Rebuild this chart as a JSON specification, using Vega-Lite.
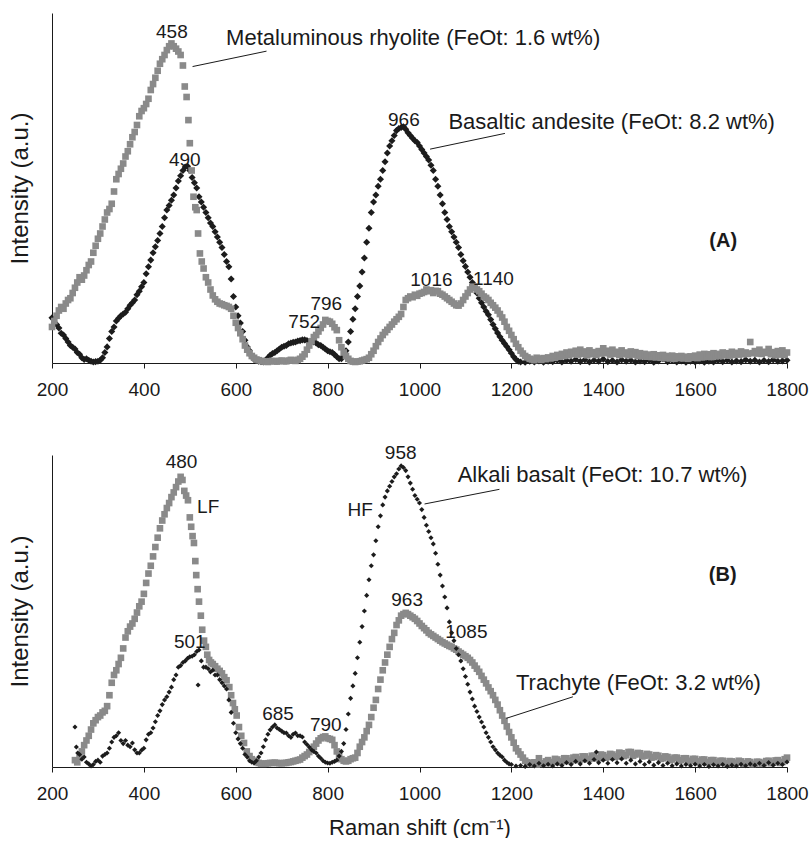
{
"$schema":"https://vega.github.io/schema/vega-lite/v6.json",
"padding":{"left":8,"top":13,"right":0,"bottom":0},
"bounds":"flush",
"spacing":92,
"datasets":{
"rhyolite":[{"x":200,"y":10.3},{"x":205,"y":12},{"x":210,"y":13.5},{"x":215,"y":15},{"x":220,"y":16},{"x":225,"y":15.5},{"x":230,"y":17},{"x":235,"y":18},{"x":240,"y":18.5},{"x":245,"y":20},{"x":250,"y":21.5},{"x":255,"y":23},{"x":260,"y":24.5},{"x":265,"y":23.8},{"x":270,"y":25},{"x":275,"y":26.5},{"x":280,"y":28},{"x":285,"y":29},{"x":290,"y":31.5},{"x":295,"y":33.5},{"x":300,"y":35.5},{"x":305,"y":37},{"x":310,"y":39},{"x":315,"y":41},{"x":320,"y":43},{"x":325,"y":44},{"x":330,"y":45.5},{"x":335,"y":49},{"x":340,"y":52.5},{"x":345,"y":54},{"x":350,"y":55.5},{"x":355,"y":57},{"x":360,"y":59},{"x":365,"y":60.5},{"x":370,"y":62.5},{"x":375,"y":64.5},{"x":380,"y":66},{"x":385,"y":68},{"x":390,"y":70.5},{"x":395,"y":72},{"x":400,"y":72.8},{"x":405,"y":74},{"x":410,"y":75.5},{"x":415,"y":78},{"x":420,"y":79.7},{"x":425,"y":81.5},{"x":430,"y":83.5},{"x":435,"y":85.5},{"x":440,"y":86.8},{"x":445,"y":88},{"x":450,"y":89.4},{"x":455,"y":90.5},{"x":460,"y":91.3},{"x":465,"y":90.5},{"x":470,"y":89.8},{"x":475,"y":89},{"x":480,"y":88},{"x":485,"y":85},{"x":489,"y":79},{"x":493,"y":76},{"x":497,"y":69.4},{"x":500,"y":62.8},{"x":504,"y":55},{"x":508,"y":47.5},{"x":512,"y":44.5},{"x":515,"y":43.7},{"x":518,"y":37},{"x":522,"y":31.3},{"x":526,"y":29},{"x":530,"y":27},{"x":535,"y":24.5},{"x":540,"y":23},{"x":545,"y":21},{"x":550,"y":19.3},{"x":555,"y":18.2},{"x":560,"y":17.5},{"x":565,"y":17},{"x":570,"y":16.8},{"x":575,"y":16.5},{"x":580,"y":16.3},{"x":585,"y":16},{"x":590,"y":15.5},{"x":595,"y":13.5},{"x":600,"y":11.5},{"x":605,"y":10},{"x":610,"y":8.5},{"x":615,"y":6.8},{"x":620,"y":5},{"x":625,"y":3.8},{"x":630,"y":2.8},{"x":635,"y":2},{"x":640,"y":1.5},{"x":645,"y":1},{"x":650,"y":0.8},{"x":655,"y":0.6},{"x":660,"y":0.5},{"x":665,"y":0.4},{"x":670,"y":0.3},{"x":675,"y":0.5},{"x":680,"y":0.6},{"x":685,"y":0.5},{"x":690,"y":0.4},{"x":695,"y":0.6},{"x":700,"y":0.7},{"x":705,"y":0.5},{"x":710,"y":0.5},{"x":715,"y":0.7},{"x":720,"y":0.9},{"x":725,"y":0.7},{"x":730,"y":0.6},{"x":735,"y":0.9},{"x":740,"y":1.2},{"x":745,"y":1.8},{"x":750,"y":2.5},{"x":755,"y":3.8},{"x":760,"y":5},{"x":765,"y":6.2},{"x":770,"y":7.4},{"x":775,"y":8},{"x":780,"y":9},{"x":785,"y":10},{"x":790,"y":11},{"x":795,"y":12.3},{"x":800,"y":12},{"x":805,"y":11.8},{"x":810,"y":11.2},{"x":815,"y":10.2},{"x":820,"y":9.4},{"x":825,"y":6.5},{"x":830,"y":4.5},{"x":835,"y":3},{"x":840,"y":2},{"x":845,"y":1.2},{"x":850,"y":0.6},{"x":855,"y":0.4},{"x":860,"y":0.3},{"x":865,"y":0.4},{"x":870,"y":0.5},{"x":875,"y":0.7},{"x":880,"y":0.9},{"x":885,"y":1.1},{"x":890,"y":1.5},{"x":895,"y":2.5},{"x":900,"y":3.5},{"x":905,"y":4.8},{"x":910,"y":6},{"x":915,"y":7},{"x":920,"y":8},{"x":925,"y":8.8},{"x":930,"y":9.5},{"x":935,"y":10.3},{"x":940,"y":11},{"x":945,"y":11.8},{"x":950,"y":12.5},{"x":955,"y":13.2},{"x":960,"y":14},{"x":965,"y":16},{"x":970,"y":18},{"x":975,"y":18.5},{"x":980,"y":19},{"x":985,"y":18.8},{"x":990,"y":19.5},{"x":995,"y":19.2},{"x":1000,"y":19.8},{"x":1005,"y":20},{"x":1010,"y":20.3},{"x":1015,"y":21},{"x":1020,"y":20.5},{"x":1025,"y":20.8},{"x":1030,"y":20},{"x":1035,"y":20.6},{"x":1040,"y":20.5},{"x":1045,"y":19.8},{"x":1050,"y":19.5},{"x":1055,"y":19},{"x":1060,"y":18.5},{"x":1065,"y":18},{"x":1070,"y":17.5},{"x":1075,"y":17},{"x":1080,"y":16.5},{"x":1085,"y":16.4},{"x":1090,"y":17},{"x":1095,"y":18},{"x":1100,"y":19},{"x":1105,"y":20},{"x":1110,"y":21},{"x":1115,"y":21.8},{"x":1120,"y":21.5},{"x":1125,"y":21},{"x":1130,"y":20.5},{"x":1135,"y":19.8},{"x":1140,"y":19},{"x":1145,"y":18.6},{"x":1150,"y":18},{"x":1155,"y":17.2},{"x":1160,"y":16.5},{"x":1165,"y":15.8},{"x":1170,"y":15},{"x":1175,"y":14},{"x":1180,"y":13},{"x":1185,"y":11.8},{"x":1190,"y":10.3},{"x":1195,"y":9.2},{"x":1200,"y":8},{"x":1205,"y":6.8},{"x":1210,"y":5.5},{"x":1215,"y":4.5},{"x":1220,"y":3.5},{"x":1225,"y":2.7},{"x":1230,"y":2},{"x":1235,"y":1.6},{"x":1240,"y":1.2},{"x":1245,"y":1},{"x":1250,"y":0.8},{"x":1255,"y":1.5},{"x":1260,"y":1.2},{"x":1265,"y":0.9},{"x":1270,"y":1.4},{"x":1275,"y":1.1},{"x":1280,"y":1.6},{"x":1285,"y":1.3},{"x":1290,"y":2},{"x":1295,"y":1.5},{"x":1300,"y":2.3},{"x":1305,"y":1.8},{"x":1310,"y":2.6},{"x":1315,"y":2},{"x":1320,"y":3},{"x":1325,"y":2.2},{"x":1330,"y":3.2},{"x":1335,"y":2.5},{"x":1340,"y":3.5},{"x":1345,"y":2.4},{"x":1350,"y":3.8},{"x":1355,"y":2.6},{"x":1360,"y":3.3},{"x":1365,"y":2.2},{"x":1370,"y":3.6},{"x":1375,"y":2.5},{"x":1380,"y":3.1},{"x":1385,"y":2.3},{"x":1390,"y":3.4},{"x":1395,"y":2.7},{"x":1400,"y":4.2},{"x":1405,"y":2.8},{"x":1410,"y":3.5},{"x":1415,"y":2.4},{"x":1420,"y":3.8},{"x":1425,"y":2.6},{"x":1430,"y":3.2},{"x":1435,"y":2.3},{"x":1440,"y":3.6},{"x":1445,"y":2.5},{"x":1450,"y":3},{"x":1455,"y":2.2},{"x":1460,"y":3.3},{"x":1465,"y":2.4},{"x":1470,"y":3.1},{"x":1475,"y":2},{"x":1480,"y":2.8},{"x":1485,"y":1.9},{"x":1490,"y":2.6},{"x":1495,"y":1.8},{"x":1500,"y":2.4},{"x":1505,"y":1.7},{"x":1510,"y":2.5},{"x":1515,"y":1.6},{"x":1520,"y":2.2},{"x":1525,"y":1.5},{"x":1530,"y":2.3},{"x":1535,"y":1.4},{"x":1540,"y":2},{"x":1545,"y":1.3},{"x":1550,"y":2.1},{"x":1555,"y":1.2},{"x":1560,"y":1.9},{"x":1565,"y":1.4},{"x":1570,"y":2},{"x":1575,"y":1.3},{"x":1580,"y":1.8},{"x":1585,"y":1.2},{"x":1590,"y":1.9},{"x":1595,"y":1.5},{"x":1600,"y":2.1},{"x":1605,"y":1.4},{"x":1610,"y":2.4},{"x":1615,"y":1.6},{"x":1620,"y":2.6},{"x":1625,"y":1.8},{"x":1630,"y":2.5},{"x":1635,"y":1.7},{"x":1640,"y":2.8},{"x":1645,"y":1.9},{"x":1650,"y":2.6},{"x":1655,"y":2},{"x":1660,"y":3},{"x":1665,"y":2.2},{"x":1670,"y":2.8},{"x":1675,"y":2.1},{"x":1680,"y":3.2},{"x":1685,"y":2.3},{"x":1690,"y":2.9},{"x":1695,"y":2.4},{"x":1700,"y":3.3},{"x":1705,"y":2.5},{"x":1710,"y":3},{"x":1715,"y":2.6},{"x":1720,"y":6},{"x":1725,"y":2.8},{"x":1730,"y":3.4},{"x":1735,"y":2.7},{"x":1740,"y":3.8},{"x":1745,"y":2.6},{"x":1750,"y":3.2},{"x":1755,"y":2.9},{"x":1760,"y":4},{"x":1765,"y":2.5},{"x":1770,"y":3.1},{"x":1775,"y":2.2},{"x":1780,"y":3.4},{"x":1785,"y":2.4},{"x":1790,"y":3.6},{"x":1795,"y":2.3},{"x":1800,"y":3}],
"basandesite":[{"x":200,"y":12.9},{"x":205,"y":11.5},{"x":210,"y":11},{"x":215,"y":10},{"x":220,"y":8.5},{"x":225,"y":8},{"x":230,"y":7},{"x":235,"y":6},{"x":240,"y":5},{"x":245,"y":4.5},{"x":250,"y":4},{"x":255,"y":3},{"x":260,"y":2.5},{"x":265,"y":1.5},{"x":270,"y":1},{"x":275,"y":1.2},{"x":280,"y":0.8},{"x":285,"y":0.5},{"x":290,"y":0.3},{"x":295,"y":0.4},{"x":300,"y":0.5},{"x":305,"y":0.8},{"x":310,"y":1.5},{"x":315,"y":3},{"x":320,"y":4.6},{"x":325,"y":7},{"x":330,"y":9},{"x":335,"y":10.3},{"x":340,"y":12},{"x":345,"y":12.8},{"x":350,"y":13.5},{"x":355,"y":14},{"x":360,"y":14.5},{"x":365,"y":15.5},{"x":370,"y":16.5},{"x":375,"y":17.2},{"x":380,"y":18},{"x":385,"y":19.5},{"x":390,"y":20.5},{"x":395,"y":21.8},{"x":400,"y":23},{"x":405,"y":25.5},{"x":410,"y":27.5},{"x":415,"y":29.4},{"x":420,"y":31.5},{"x":425,"y":33.2},{"x":430,"y":35},{"x":435,"y":37},{"x":440,"y":39},{"x":445,"y":41.5},{"x":450,"y":43.7},{"x":455,"y":45},{"x":460,"y":46.5},{"x":465,"y":48},{"x":470,"y":50},{"x":475,"y":52},{"x":480,"y":53.5},{"x":485,"y":55},{"x":490,"y":56},{"x":495,"y":56.2},{"x":500,"y":55},{"x":505,"y":53},{"x":510,"y":51.5},{"x":515,"y":50},{"x":520,"y":47.5},{"x":525,"y":46},{"x":530,"y":44.5},{"x":535,"y":43},{"x":540,"y":41.5},{"x":545,"y":40},{"x":550,"y":39},{"x":555,"y":37.5},{"x":560,"y":36},{"x":565,"y":34.5},{"x":570,"y":33},{"x":575,"y":31},{"x":580,"y":29},{"x":585,"y":27.5},{"x":590,"y":24},{"x":595,"y":19},{"x":600,"y":16},{"x":605,"y":13.5},{"x":610,"y":11.4},{"x":615,"y":9},{"x":620,"y":6.5},{"x":625,"y":4.6},{"x":630,"y":3.5},{"x":635,"y":2},{"x":640,"y":1},{"x":645,"y":0.7},{"x":650,"y":0.5},{"x":655,"y":0.4},{"x":660,"y":0.3},{"x":665,"y":0.8},{"x":670,"y":1.5},{"x":675,"y":2.2},{"x":680,"y":2.7},{"x":685,"y":3},{"x":690,"y":3.5},{"x":695,"y":4},{"x":700,"y":4.5},{"x":705,"y":4.8},{"x":710,"y":5},{"x":715,"y":5.5},{"x":720,"y":5.7},{"x":725,"y":5.9},{"x":730,"y":6},{"x":735,"y":6.3},{"x":740,"y":6.4},{"x":745,"y":6.6},{"x":750,"y":6.6},{"x":755,"y":6.4},{"x":760,"y":6.2},{"x":765,"y":6.1},{"x":770,"y":6},{"x":775,"y":5.7},{"x":780,"y":5.2},{"x":785,"y":5},{"x":790,"y":4.5},{"x":795,"y":4},{"x":800,"y":3.5},{"x":805,"y":3.2},{"x":810,"y":3},{"x":815,"y":2.4},{"x":820,"y":1.8},{"x":825,"y":1.2},{"x":830,"y":1.2},{"x":835,"y":2},{"x":840,"y":3.5},{"x":845,"y":6},{"x":850,"y":9},{"x":855,"y":12.5},{"x":860,"y":15.5},{"x":865,"y":19},{"x":870,"y":22},{"x":875,"y":26},{"x":880,"y":30},{"x":885,"y":34.5},{"x":890,"y":38.5},{"x":895,"y":43},{"x":900,"y":46},{"x":905,"y":48},{"x":910,"y":50.5},{"x":915,"y":52.5},{"x":920,"y":55},{"x":925,"y":57.5},{"x":930,"y":60},{"x":935,"y":62},{"x":940,"y":63.5},{"x":945,"y":65},{"x":950,"y":66.4},{"x":955,"y":67},{"x":960,"y":67.3},{"x":965,"y":67.5},{"x":970,"y":66.8},{"x":975,"y":65.8},{"x":980,"y":65},{"x":985,"y":64.2},{"x":990,"y":63.5},{"x":995,"y":63},{"x":1000,"y":62},{"x":1005,"y":61},{"x":1010,"y":60},{"x":1015,"y":59},{"x":1020,"y":58},{"x":1025,"y":56.5},{"x":1030,"y":55},{"x":1035,"y":52.5},{"x":1040,"y":50.5},{"x":1045,"y":48},{"x":1050,"y":45.5},{"x":1055,"y":43},{"x":1060,"y":41},{"x":1065,"y":39},{"x":1070,"y":37.5},{"x":1075,"y":36},{"x":1080,"y":34.5},{"x":1085,"y":33},{"x":1090,"y":31},{"x":1095,"y":29.2},{"x":1100,"y":27.6},{"x":1105,"y":26},{"x":1110,"y":24.5},{"x":1115,"y":23},{"x":1120,"y":21.5},{"x":1125,"y":20},{"x":1130,"y":18.5},{"x":1135,"y":17.2},{"x":1140,"y":16},{"x":1145,"y":14.8},{"x":1150,"y":13.8},{"x":1155,"y":12.4},{"x":1160,"y":11},{"x":1165,"y":9.8},{"x":1170,"y":8.6},{"x":1175,"y":7.5},{"x":1180,"y":6.5},{"x":1185,"y":5.6},{"x":1190,"y":4.7},{"x":1195,"y":3.8},{"x":1200,"y":2.8},{"x":1205,"y":1.8},{"x":1210,"y":1},{"x":1215,"y":0.5},{"x":1220,"y":0.3},{"x":1230,"y":0.2},{"x":1240,"y":0.5},{"x":1250,"y":0.3},{"x":1260,"y":0.6},{"x":1270,"y":0.2},{"x":1280,"y":0.5},{"x":1290,"y":0.4},{"x":1300,"y":0.8},{"x":1310,"y":0.3},{"x":1320,"y":0.7},{"x":1330,"y":0.5},{"x":1340,"y":1},{"x":1350,"y":0.4},{"x":1360,"y":0.9},{"x":1370,"y":0.3},{"x":1380,"y":0.8},{"x":1390,"y":0.5},{"x":1400,"y":1.1},{"x":1410,"y":0.4},{"x":1420,"y":0.7},{"x":1430,"y":0.3},{"x":1440,"y":0.9},{"x":1450,"y":0.5},{"x":1460,"y":0.8},{"x":1470,"y":0.3},{"x":1480,"y":0.6},{"x":1490,"y":0.4},{"x":1500,"y":0.7},{"x":1510,"y":0.2},{"x":1520,"y":0.6},{"x":1530,"y":1.2},{"x":1540,"y":0.4},{"x":1550,"y":0.7},{"x":1560,"y":0.3},{"x":1570,"y":0.6},{"x":1580,"y":0.2},{"x":1590,"y":0.5},{"x":1600,"y":0.3},{"x":1610,"y":0.6},{"x":1620,"y":0.2},{"x":1630,"y":0.5},{"x":1640,"y":0.3},{"x":1650,"y":0.7},{"x":1660,"y":0.4},{"x":1670,"y":0.8},{"x":1680,"y":0.3},{"x":1690,"y":0.6},{"x":1700,"y":0.4},{"x":1710,"y":0.9},{"x":1720,"y":0.5},{"x":1730,"y":0.8},{"x":1740,"y":0.3},{"x":1750,"y":0.7},{"x":1760,"y":0.4},{"x":1770,"y":0.9},{"x":1780,"y":0.5},{"x":1790,"y":0.6},{"x":1800,"y":0.8}],
"alkbasalt":[{"x":250,"y":12.8},{"x":253,"y":6.4},{"x":256,"y":4.5},{"x":260,"y":4},{"x":265,"y":2.5},{"x":270,"y":3.2},{"x":275,"y":1.5},{"x":280,"y":1},{"x":285,"y":0.3},{"x":290,"y":0.8},{"x":295,"y":1.8},{"x":300,"y":2.2},{"x":305,"y":1.5},{"x":310,"y":3.5},{"x":315,"y":4},{"x":320,"y":4.5},{"x":325,"y":6},{"x":330,"y":8},{"x":335,"y":9.5},{"x":340,"y":10},{"x":345,"y":11},{"x":350,"y":8.5},{"x":355,"y":7.5},{"x":360,"y":8.5},{"x":365,"y":7},{"x":370,"y":6.5},{"x":375,"y":7.7},{"x":380,"y":5.5},{"x":385,"y":4.5},{"x":390,"y":4.5},{"x":395,"y":5.4},{"x":400,"y":6},{"x":405,"y":8.7},{"x":410,"y":10.5},{"x":415,"y":11},{"x":420,"y":12.5},{"x":425,"y":14.5},{"x":430,"y":16.5},{"x":435,"y":18},{"x":440,"y":20},{"x":445,"y":21.5},{"x":450,"y":22.5},{"x":455,"y":24},{"x":460,"y":25.6},{"x":465,"y":28},{"x":470,"y":29.5},{"x":475,"y":32},{"x":480,"y":32.5},{"x":485,"y":33.5},{"x":490,"y":34},{"x":495,"y":34.8},{"x":500,"y":35.3},{"x":505,"y":35.5},{"x":510,"y":36},{"x":515,"y":37},{"x":518,"y":26.3},{"x":520,"y":37.5},{"x":525,"y":34},{"x":530,"y":32},{"x":535,"y":32},{"x":540,"y":31.5},{"x":545,"y":30.5},{"x":550,"y":31},{"x":555,"y":29.5},{"x":560,"y":29.5},{"x":565,"y":28},{"x":570,"y":27},{"x":575,"y":26},{"x":580,"y":25},{"x":585,"y":21.5},{"x":590,"y":17.5},{"x":595,"y":14},{"x":600,"y":11},{"x":605,"y":9},{"x":610,"y":7.5},{"x":615,"y":6},{"x":620,"y":4},{"x":625,"y":3.2},{"x":630,"y":2},{"x":635,"y":1.5},{"x":640,"y":1.3},{"x":645,"y":2},{"x":650,"y":3.2},{"x":655,"y":4.5},{"x":660,"y":6.5},{"x":665,"y":8.7},{"x":670,"y":10.5},{"x":675,"y":11.9},{"x":680,"y":12.8},{"x":685,"y":13.5},{"x":690,"y":12.5},{"x":695,"y":12},{"x":700,"y":11.5},{"x":705,"y":11},{"x":710,"y":10.9},{"x":715,"y":10},{"x":720,"y":9.5},{"x":725,"y":10.5},{"x":730,"y":10.9},{"x":735,"y":10},{"x":740,"y":10},{"x":745,"y":9.6},{"x":750,"y":8},{"x":755,"y":7.2},{"x":760,"y":6.4},{"x":765,"y":5.5},{"x":770,"y":5},{"x":775,"y":4.5},{"x":780,"y":3.5},{"x":785,"y":2.8},{"x":790,"y":2},{"x":795,"y":1.5},{"x":800,"y":1.3},{"x":805,"y":1.2},{"x":810,"y":1.5},{"x":815,"y":1.8},{"x":820,"y":2.2},{"x":825,"y":3.5},{"x":830,"y":5},{"x":835,"y":7.5},{"x":840,"y":12},{"x":845,"y":17},{"x":850,"y":22},{"x":855,"y":26},{"x":860,"y":30},{"x":865,"y":35},{"x":870,"y":40},{"x":875,"y":45},{"x":880,"y":50},{"x":885,"y":55},{"x":890,"y":60},{"x":895,"y":64.5},{"x":900,"y":68},{"x":905,"y":72.5},{"x":910,"y":77},{"x":915,"y":80.5},{"x":920,"y":84},{"x":925,"y":86.5},{"x":930,"y":88.5},{"x":935,"y":90},{"x":940,"y":91.5},{"x":945,"y":93},{"x":950,"y":94},{"x":955,"y":95.5},{"x":960,"y":96.5},{"x":965,"y":96},{"x":970,"y":95},{"x":975,"y":93},{"x":980,"y":91},{"x":985,"y":89},{"x":990,"y":87},{"x":995,"y":85.8},{"x":1000,"y":84.6},{"x":1005,"y":82.5},{"x":1010,"y":80},{"x":1015,"y":77.5},{"x":1020,"y":75.5},{"x":1025,"y":73.5},{"x":1030,"y":71.5},{"x":1035,"y":68.5},{"x":1040,"y":65},{"x":1045,"y":61.5},{"x":1050,"y":58},{"x":1055,"y":54.5},{"x":1060,"y":51},{"x":1065,"y":46.5},{"x":1070,"y":43},{"x":1075,"y":40.5},{"x":1080,"y":38},{"x":1085,"y":36},{"x":1090,"y":34},{"x":1095,"y":31.5},{"x":1100,"y":29},{"x":1105,"y":26.5},{"x":1110,"y":24},{"x":1115,"y":21.8},{"x":1120,"y":19.5},{"x":1125,"y":17.8},{"x":1130,"y":16},{"x":1135,"y":14.4},{"x":1140,"y":12.8},{"x":1145,"y":11},{"x":1150,"y":9.5},{"x":1155,"y":8},{"x":1160,"y":6.5},{"x":1165,"y":5.5},{"x":1170,"y":4.5},{"x":1175,"y":3.8},{"x":1180,"y":3.2},{"x":1185,"y":2.2},{"x":1190,"y":1.5},{"x":1195,"y":1},{"x":1200,"y":0.8},{"x":1210,"y":0.3},{"x":1220,"y":0.5},{"x":1230,"y":0.2},{"x":1240,"y":0.8},{"x":1250,"y":0.3},{"x":1260,"y":1.2},{"x":1270,"y":0.4},{"x":1280,"y":0.9},{"x":1290,"y":0.3},{"x":1300,"y":1},{"x":1310,"y":0.5},{"x":1320,"y":1.4},{"x":1330,"y":0.8},{"x":1340,"y":1.8},{"x":1350,"y":1},{"x":1360,"y":2},{"x":1370,"y":1.2},{"x":1380,"y":2.4},{"x":1385,"y":4.8},{"x":1390,"y":1.4},{"x":1400,"y":2.2},{"x":1410,"y":1.2},{"x":1420,"y":2.4},{"x":1430,"y":1.4},{"x":1440,"y":2.6},{"x":1450,"y":1.2},{"x":1460,"y":2.2},{"x":1470,"y":1},{"x":1480,"y":1.8},{"x":1490,"y":0.8},{"x":1500,"y":1.6},{"x":1510,"y":0.6},{"x":1520,"y":1.4},{"x":1530,"y":0.5},{"x":1540,"y":1.2},{"x":1550,"y":0.4},{"x":1560,"y":1},{"x":1570,"y":0.3},{"x":1580,"y":0.8},{"x":1590,"y":0.4},{"x":1600,"y":0.9},{"x":1610,"y":0.3},{"x":1620,"y":0.8},{"x":1630,"y":0.2},{"x":1640,"y":0.7},{"x":1650,"y":0.3},{"x":1660,"y":0.8},{"x":1670,"y":0.2},{"x":1680,"y":0.6},{"x":1690,"y":0.3},{"x":1700,"y":0.9},{"x":1710,"y":0.4},{"x":1720,"y":1},{"x":1730,"y":0.6},{"x":1740,"y":1.2},{"x":1750,"y":0.5},{"x":1760,"y":1.4},{"x":1770,"y":0.6},{"x":1780,"y":1.2},{"x":1790,"y":0.8},{"x":1800,"y":1.6}],
"trachyte":[{"x":250,"y":2.2},{"x":255,"y":1.5},{"x":260,"y":3},{"x":265,"y":5},{"x":270,"y":7},{"x":275,"y":8.5},{"x":280,"y":10},{"x":285,"y":12},{"x":290,"y":14},{"x":295,"y":15},{"x":300,"y":16},{"x":305,"y":16.5},{"x":310,"y":17.5},{"x":315,"y":18},{"x":320,"y":19.5},{"x":325,"y":23},{"x":330,"y":27},{"x":335,"y":29.5},{"x":340,"y":31},{"x":345,"y":33},{"x":350,"y":35},{"x":355,"y":38},{"x":360,"y":41.5},{"x":365,"y":43.5},{"x":370,"y":45},{"x":375,"y":46},{"x":380,"y":47.5},{"x":385,"y":49.5},{"x":390,"y":51.5},{"x":395,"y":53},{"x":400,"y":55.5},{"x":405,"y":59},{"x":410,"y":62},{"x":415,"y":64.5},{"x":420,"y":67.5},{"x":425,"y":70.5},{"x":430,"y":73.5},{"x":435,"y":76.5},{"x":440,"y":79},{"x":445,"y":81},{"x":450,"y":83},{"x":455,"y":84.6},{"x":460,"y":86.5},{"x":465,"y":88},{"x":470,"y":89.7},{"x":475,"y":91.5},{"x":480,"y":93},{"x":484,"y":92},{"x":488,"y":88.5},{"x":492,"y":87},{"x":496,"y":85.5},{"x":500,"y":80},{"x":503,"y":77},{"x":506,"y":74},{"x":509,"y":71.8},{"x":512,"y":66},{"x":514,"y":61.5},{"x":517,"y":57},{"x":520,"y":53},{"x":524,"y":48.5},{"x":527,"y":44},{"x":531,"y":40.5},{"x":535,"y":38.5},{"x":538,"y":36},{"x":542,"y":34.3},{"x":546,"y":33.5},{"x":550,"y":33},{"x":555,"y":32.3},{"x":560,"y":31.5},{"x":565,"y":30.8},{"x":570,"y":30},{"x":575,"y":28.8},{"x":580,"y":27.8},{"x":586,"y":25.6},{"x":590,"y":23},{"x":594,"y":20.5},{"x":598,"y":18.5},{"x":602,"y":16.5},{"x":607,"y":12.8},{"x":612,"y":10},{"x":618,"y":7.7},{"x":624,"y":5},{"x":630,"y":3.5},{"x":635,"y":2.5},{"x":640,"y":2},{"x":645,"y":1.6},{"x":650,"y":1.3},{"x":655,"y":1.1},{"x":660,"y":1},{"x":665,"y":1.1},{"x":670,"y":1.2},{"x":675,"y":1.3},{"x":680,"y":1.3},{"x":685,"y":1.4},{"x":690,"y":1.3},{"x":695,"y":1.2},{"x":700,"y":1.2},{"x":705,"y":1.3},{"x":710,"y":1.3},{"x":715,"y":1.5},{"x":720,"y":1.6},{"x":725,"y":1.8},{"x":730,"y":2},{"x":735,"y":2.2},{"x":740,"y":2.4},{"x":745,"y":3},{"x":750,"y":3.5},{"x":755,"y":4},{"x":760,"y":4.8},{"x":765,"y":5.5},{"x":770,"y":6.5},{"x":775,"y":7.5},{"x":780,"y":8.5},{"x":785,"y":9.2},{"x":790,"y":9.6},{"x":795,"y":9.8},{"x":800,"y":9.2},{"x":805,"y":9},{"x":810,"y":8.7},{"x":815,"y":7},{"x":820,"y":5},{"x":825,"y":3.5},{"x":830,"y":2.5},{"x":835,"y":2},{"x":840,"y":1.8},{"x":845,"y":2},{"x":850,"y":2.5},{"x":855,"y":2.8},{"x":860,"y":3},{"x":865,"y":4.5},{"x":870,"y":6.5},{"x":875,"y":8},{"x":880,"y":9.5},{"x":885,"y":11.5},{"x":890,"y":13.5},{"x":895,"y":16},{"x":900,"y":19},{"x":905,"y":21.5},{"x":910,"y":25},{"x":915,"y":28},{"x":920,"y":31},{"x":925,"y":33.5},{"x":930,"y":36},{"x":935,"y":38.5},{"x":940,"y":41},{"x":945,"y":43},{"x":950,"y":45.5},{"x":955,"y":47},{"x":960,"y":48.5},{"x":965,"y":49},{"x":970,"y":49.4},{"x":975,"y":49},{"x":980,"y":48.5},{"x":985,"y":48},{"x":990,"y":47.5},{"x":995,"y":46.8},{"x":1000,"y":46},{"x":1005,"y":45.2},{"x":1010,"y":44.5},{"x":1015,"y":43.8},{"x":1020,"y":43},{"x":1025,"y":42.5},{"x":1030,"y":42},{"x":1035,"y":41.5},{"x":1040,"y":41},{"x":1045,"y":40.5},{"x":1050,"y":40},{"x":1055,"y":39.6},{"x":1060,"y":39.2},{"x":1065,"y":38.8},{"x":1070,"y":38.5},{"x":1075,"y":38},{"x":1080,"y":37.6},{"x":1085,"y":37},{"x":1090,"y":36.5},{"x":1095,"y":36},{"x":1100,"y":35.5},{"x":1105,"y":35},{"x":1110,"y":34.3},{"x":1115,"y":33.5},{"x":1120,"y":32.5},{"x":1125,"y":31.5},{"x":1130,"y":30.5},{"x":1135,"y":29.2},{"x":1140,"y":28},{"x":1145,"y":26.8},{"x":1150,"y":25.5},{"x":1155,"y":24.3},{"x":1160,"y":23},{"x":1165,"y":21.5},{"x":1170,"y":20},{"x":1175,"y":18.2},{"x":1180,"y":16.5},{"x":1185,"y":14.8},{"x":1190,"y":13},{"x":1195,"y":11.2},{"x":1200,"y":9.5},{"x":1205,"y":7.8},{"x":1210,"y":6},{"x":1215,"y":5},{"x":1220,"y":4},{"x":1225,"y":3},{"x":1230,"y":2},{"x":1235,"y":1.5},{"x":1240,"y":1.2},{"x":1245,"y":1},{"x":1250,"y":1.5},{"x":1255,"y":0.8},{"x":1260,"y":2.8},{"x":1265,"y":1},{"x":1270,"y":1.2},{"x":1275,"y":1.8},{"x":1280,"y":2.2},{"x":1285,"y":1.2},{"x":1290,"y":1.6},{"x":1295,"y":2.6},{"x":1300,"y":2.4},{"x":1305,"y":1.5},{"x":1310,"y":1.8},{"x":1315,"y":2.8},{"x":1320,"y":2.8},{"x":1325,"y":1.9},{"x":1330,"y":2},{"x":1335,"y":3},{"x":1340,"y":3.2},{"x":1345,"y":2.2},{"x":1350,"y":2.4},{"x":1355,"y":3.4},{"x":1360,"y":3.4},{"x":1365,"y":2.5},{"x":1370,"y":2.6},{"x":1375,"y":3.6},{"x":1380,"y":3.6},{"x":1385,"y":2.8},{"x":1390,"y":2.8},{"x":1395,"y":4},{"x":1400,"y":3.8},{"x":1405,"y":3},{"x":1410,"y":3.2},{"x":1415,"y":4.2},{"x":1420,"y":4},{"x":1425,"y":3.2},{"x":1430,"y":3.4},{"x":1435,"y":4.6},{"x":1440,"y":4.4},{"x":1445,"y":3.5},{"x":1450,"y":3.8},{"x":1455,"y":4.8},{"x":1460,"y":4.8},{"x":1465,"y":3.6},{"x":1470,"y":4},{"x":1475,"y":4.5},{"x":1480,"y":4.4},{"x":1485,"y":3.4},{"x":1490,"y":3.6},{"x":1495,"y":4.2},{"x":1500,"y":4},{"x":1505,"y":3},{"x":1510,"y":3.2},{"x":1515,"y":3.8},{"x":1520,"y":3.6},{"x":1525,"y":2.6},{"x":1530,"y":2.8},{"x":1535,"y":3.4},{"x":1540,"y":3.2},{"x":1545,"y":2.2},{"x":1550,"y":2.4},{"x":1555,"y":3},{"x":1560,"y":3},{"x":1565,"y":2},{"x":1570,"y":2.2},{"x":1575,"y":2.8},{"x":1580,"y":2.8},{"x":1585,"y":1.8},{"x":1590,"y":2},{"x":1595,"y":2.6},{"x":1600,"y":2.6},{"x":1605,"y":1.6},{"x":1610,"y":1.8},{"x":1615,"y":2.4},{"x":1620,"y":2.4},{"x":1625,"y":1.5},{"x":1630,"y":1.6},{"x":1635,"y":2.2},{"x":1640,"y":2.2},{"x":1645,"y":1.3},{"x":1650,"y":1.4},{"x":1655,"y":2},{"x":1660,"y":2},{"x":1665,"y":1.2},{"x":1670,"y":1.2},{"x":1675,"y":1.9},{"x":1680,"y":1.8},{"x":1685,"y":1.1},{"x":1690,"y":1.4},{"x":1695,"y":2},{"x":1700,"y":1.8},{"x":1705,"y":1},{"x":1710,"y":1.2},{"x":1715,"y":1.8},{"x":1720,"y":1.6},{"x":1725,"y":0.9},{"x":1730,"y":1},{"x":1735,"y":1.7},{"x":1740,"y":1.6},{"x":1745,"y":1},{"x":1750,"y":1.2},{"x":1755,"y":1.9},{"x":1760,"y":2},{"x":1765,"y":1.2},{"x":1770,"y":1.4},{"x":1775,"y":2.1},{"x":1780,"y":2.2},{"x":1785,"y":1.3},{"x":1790,"y":1.6},{"x":1795,"y":2.5},{"x":1800,"y":3}],
"notes":[
{"panel":"A","kind":"peak","x":461,"y":94.6,"t":"458"},
{"panel":"A","kind":"peak","x":489,"y":58,"t":"490"},
{"panel":"A","kind":"peak","x":966,"y":69.4,"t":"966"},
{"panel":"A","kind":"peak","x":749,"y":11.6,"t":"752"},
{"panel":"A","kind":"peak","x":797,"y":17,"t":"796"},
{"panel":"A","kind":"peak","x":1026,"y":23.7,"t":"1016"},
{"panel":"A","kind":"peak","x":1161,"y":24,"t":"1140"},
{"panel":"A","kind":"name","x":579,"y":93,"t":"Metaluminous rhyolite (FeOt: 1.6 wt%)"},
{"panel":"A","kind":"name","x":1063,"y":68.9,"t":"Basaltic andesite (FeOt: 8.2 wt%)"},
{"panel":"A","kind":"tag","x":1661,"y":35,"t":"(A)"},
{"panel":"B","kind":"peak","x":482,"y":97.6,"t":"480"},
{"panel":"B","kind":"peak","x":540,"y":83.3,"t":"LF"},
{"panel":"B","kind":"peak","x":871,"y":82.5,"t":"HF"},
{"panel":"B","kind":"peak","x":959,"y":100.6,"t":"958"},
{"panel":"B","kind":"peak","x":973,"y":53.5,"t":"963"},
{"panel":"B","kind":"peak","x":1102,"y":43.4,"t":"1085"},
{"panel":"B","kind":"peak","x":500,"y":40.2,"t":"501"},
{"panel":"B","kind":"peak","x":692,"y":17,"t":"685"},
{"panel":"B","kind":"peak","x":796,"y":13.5,"t":"790"},
{"panel":"B","kind":"name","x":1083,"y":93.6,"t":"Alkali basalt (FeOt: 10.7 wt%)"},
{"panel":"B","kind":"name","x":1210,"y":26.9,"t":"Trachyte (FeOt: 3.2 wt%)"},
{"panel":"B","kind":"tag","x":1660,"y":61.5,"t":"(B)"}
],
"leaders":[
{"panel":"A","x":506,"y":84.7,"x2":667,"y2":89.1},
{"panel":"A","x":1023,"y":61.1,"x2":1186,"y2":65.6},
{"panel":"B","x":1011,"y":84.3,"x2":1174,"y2":89},
{"panel":"B","x":1189,"y":15.6,"x2":1334,"y2":22.5}
]
},
"vconcat":[
{
"width":735,"height":350,
"encoding":{
"x":{"field":"x","type":"quantitative","scale":{"domain":[200,1800],"nice":false,"zero":false},"axis":{"title":null,"format":"d","values":[200,400,600,800,1000,1200,1400,1600,1800]}},
"y":{"field":"y","type":"quantitative","scale":{"domain":[0,100],"nice":false,"zero":false},"axis":{"title":"Intensity (a.u.)"}}
},
"layer":[
{"data":{"name":"basandesite"},"mark":{"type":"point","shape":"diamond","filled":true,"size":50,"color":"#1c1c1c","opacity":1,"strokeWidth":0}},
{"data":{"name":"rhyolite"},"mark":{"type":"square","size":44,"color":"#8a8a8a","opacity":1}},
{"data":{"name":"leaders"},"transform":[{"filter":"datum.panel==='A'"}],"mark":{"type":"rule","color":"#1a1a1a","strokeWidth":1},"encoding":{"x2":{"field":"x2"},"y2":{"field":"y2"}}},
{"data":{"name":"notes"},"transform":[{"filter":"datum.panel==='A' && datum.kind==='peak'"}],"mark":{"type":"text","fontSize":19,"color":"#1a1a1a","font":"Liberation Sans"},"encoding":{"text":{"field":"t"}}},
{"data":{"name":"notes"},"transform":[{"filter":"datum.panel==='A' && datum.kind==='name'"}],"mark":{"type":"text","fontSize":22,"align":"left","color":"#1a1a1a","font":"Liberation Sans"},"encoding":{"text":{"field":"t"}}},
{"data":{"name":"notes"},"transform":[{"filter":"datum.panel==='A' && datum.kind==='tag'"}],"mark":{"type":"text","fontSize":20,"fontWeight":"bold","color":"#1a1a1a","font":"Liberation Sans"},"encoding":{"text":{"field":"t"}}}
]
},
{
"width":735,"height":312,
"encoding":{
"x":{"field":"x","type":"quantitative","scale":{"domain":[200,1800],"nice":false,"zero":false},"axis":{"title":"Raman shift (cm⁻¹)","format":"d","values":[200,400,600,800,1000,1200,1400,1600,1800]}},
"y":{"field":"y","type":"quantitative","scale":{"domain":[0,100],"nice":false,"zero":false},"axis":{"title":"Intensity (a.u.)"}}
},
"layer":[
{"data":{"name":"trachyte"},"mark":{"type":"square","size":44,"color":"#8a8a8a","opacity":1}},
{"data":{"name":"alkbasalt"},"mark":{"type":"point","shape":"diamond","filled":true,"size":26,"color":"#1c1c1c","opacity":1,"strokeWidth":0}},
{"data":{"name":"leaders"},"transform":[{"filter":"datum.panel==='B'"}],"mark":{"type":"rule","color":"#1a1a1a","strokeWidth":1},"encoding":{"x2":{"field":"x2"},"y2":{"field":"y2"}}},
{"data":{"name":"notes"},"transform":[{"filter":"datum.panel==='B' && datum.kind==='peak'"}],"mark":{"type":"text","fontSize":19,"color":"#1a1a1a","font":"Liberation Sans"},"encoding":{"text":{"field":"t"}}},
{"data":{"name":"notes"},"transform":[{"filter":"datum.panel==='B' && datum.kind==='name'"}],"mark":{"type":"text","fontSize":22,"align":"left","color":"#1a1a1a","font":"Liberation Sans"},"encoding":{"text":{"field":"t"}}},
{"data":{"name":"notes"},"transform":[{"filter":"datum.panel==='B' && datum.kind==='tag'"}],"mark":{"type":"text","fontSize":20,"fontWeight":"bold","color":"#1a1a1a","font":"Liberation Sans"},"encoding":{"text":{"field":"t"}}}
]
}
],
"config":{
"font":"Liberation Sans",
"view":{"stroke":null},
"axis":{"grid":false,"domainColor":"#1a1a1a","tickColor":"#1a1a1a","labelColor":"#1a1a1a","titleColor":"#1a1a1a","labelFont":"Liberation Sans","titleFont":"Liberation Sans","labelFontSize":19,"titleFontWeight":"normal","domainWidth":1,"tickWidth":1},
"axisX":{"tickSize":5,"labelPadding":12,"labelFlush":false,"labelOverlap":false,"titleFontSize":22,"titlePadding":14},
"axisY":{"ticks":false,"labels":false,"titleFontSize":24,"titlePadding":20}
}
}
